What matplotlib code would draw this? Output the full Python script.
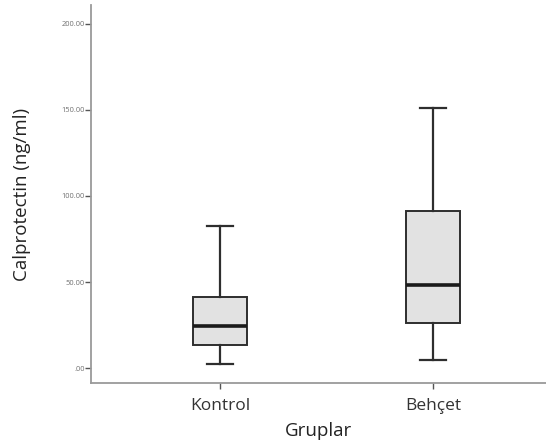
import matplotlib
matplotlib.use("Agg")
import matplotlib.pyplot as plt

plt.rcParams['font.family'] = ['Open Sans', 'DejaVu Sans']

groups = ["Kontrol", "Behçet"]
whisker_low = [2.5, 4.5]
q1 = [13.5, 26.0]
median = [24.5, 48.0]
q3 = [41.5, 91.0]
whisker_high = [82.5, 151.0]

y_ticks = [0, 50, 100, 150, 200]
y_tick_labels = [".00", "50.00", "100.00", "150.00", "200.00"]

fig = plt.figure(figsize=(5.46, 4.48), dpi=100)
ax = fig.add_axes([91 / 546, 1 - 383 / 448, 1 - 91 / 546, 378 / 448])

stats = []
for i, g in enumerate(groups):
    stats.append(dict(label=g, whislo=whisker_low[i], q1=q1[i], med=median[i],
                      q3=q3[i], whishi=whisker_high[i], fliers=[]))

edge = "#2e2e2e"
ax.bxp(stats, positions=[1, 2], widths=0.25, patch_artist=True,
       showfliers=False,
       boxprops=dict(facecolor="#e2e2e2", edgecolor=edge, linewidth=1.4),
       medianprops=dict(color="#1a1a1a", linewidth=2.6),
       whiskerprops=dict(color=edge, linewidth=1.6),
       capprops=dict(color=edge, linewidth=1.6),
       capwidths=0.125)

ax.set_xlim(0.394, 2.53)
ax.set_ylim(-8.7, 211)
ax.set_yticks(y_ticks)
ax.set_yticklabels(y_tick_labels, fontsize=5.4, color="#707070")
ax.set_xticks([1, 2])
ax.set_xticklabels(groups, fontsize=12.5, color="#333333")

for side in ("top", "right"):
    ax.spines[side].set_visible(False)
for side in ("left", "bottom"):
    ax.spines[side].set_color("#9a9a9a")
    ax.spines[side].set_linewidth(1.3)

ax.tick_params(axis="y", length=4, width=1, color="#555555", pad=0.5)
ax.tick_params(axis="x", length=4, width=1, color="#555555", pad=6.5)

ax.set_ylabel("Calprotectin (ng/ml)", fontsize=13.5, color="#222222", labelpad=22)
ax.set_xlabel("Gruplar", fontsize=13.5, color="#222222", labelpad=6)

fig.savefig("out.png", dpi=100)
